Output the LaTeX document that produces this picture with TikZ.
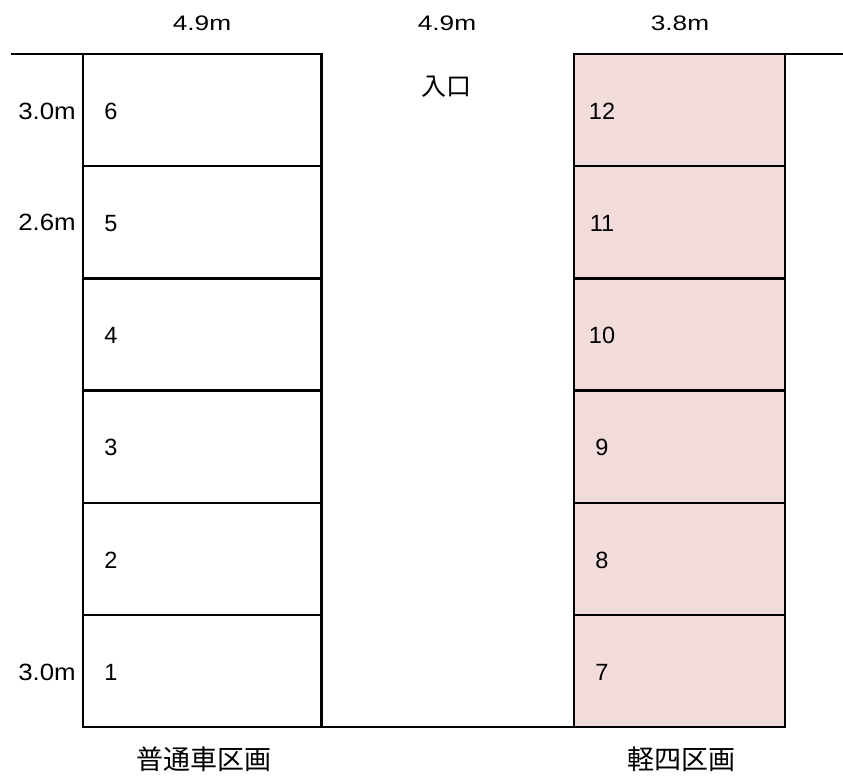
\documentclass[tikz,border=0pt]{standalone}
\usepackage{fontspec}
\setmainfont{Liberation Sans}
\newfontfamily\jpfont{Noto Sans CJK JP}
\definecolor{keipink}{HTML}{F2DCDB}
\newcommand{\widetxt}[2]{\scalebox{#1}[1]{#2}}
\begin{document}
\begin{tikzpicture}[x=1pt,y=-1pt,
  line width=2.3pt, line cap=rect,
  cellL/.style={draw=black, fill=white, minimum width=238.5pt, minimum height=112.2pt, inner sep=0pt, outer sep=0pt},
  cellR/.style={draw=black, fill=keipink, minimum width=211pt, minimum height=112.2pt, inner sep=0pt, outer sep=0pt},
  num/.style={font=\fontsize{23.5}{24}\selectfont, inner sep=0pt},
  dimtop/.style={font=\fontsize{21}{22}\selectfont, inner sep=0pt},
  dimside/.style={font=\fontsize{23.5}{24}\selectfont, inner sep=0pt},
  jp/.style={font=\jpfont\fontsize{27}{27}\selectfont, inner sep=0pt},
  jpin/.style={font=\jpfont\fontsize{25}{25}\selectfont, inner sep=0pt}]
\useasboundingbox (0,0) rectangle (843,777);
% left block cells (6 top ... 1 bottom)
\foreach \i/\n in {0/6,1/5,2/4,3/3,4/2,5/1}{
  \node[cellL] (L\n) at (202.2, {54+112.2*(\i+0.5)}) {};
  \node[num] (nL\n) at (111, {54+112.2*(\i+0.5)+1}) {\n};
}
\foreach \i/\n in {0/12,1/11,2/10,3/9,4/8,5/7}{
  \node[cellR] (R\n) at (679.5, {54+112.2*(\i+0.5)}) {};
  \node[num] (nR\n) at (602, {54+112.2*(\i+0.5)+1}) {\n};
}
% boundary lines
\coordinate (tl) at (12,54);
\coordinate (tr) at (843,54);
\draw (tl) -- (L6.north west);
\draw (R12.north east) -- (tr);
\draw (L1.south east) -- (R7.south west);
% dimension labels
\node[dimtop] (d1) at (202,23) {\widetxt{1.25}{4.9m}};
\node[dimtop] (d2) at (447,23) {\widetxt{1.25}{4.9m}};
\node[dimtop] (d3) at (680,23) {\widetxt{1.25}{3.8m}};
\node[dimside] (h6) at (47,111.5) {\widetxt{1.1}{3.0m}};
\node[dimside] (h5) at (47,222.5) {\widetxt{1.1}{2.6m}};
\node[dimside] (h1) at (47,672.5) {\widetxt{1.1}{3.0m}};
% japanese labels
\node[jpin] (entr) at (446,87) {入口};
\node[jp] (futsu) at (204,759) {普通車区画};
\node[jp] (kei) at (681,759) {軽四区画};
\end{tikzpicture}
\end{document}
